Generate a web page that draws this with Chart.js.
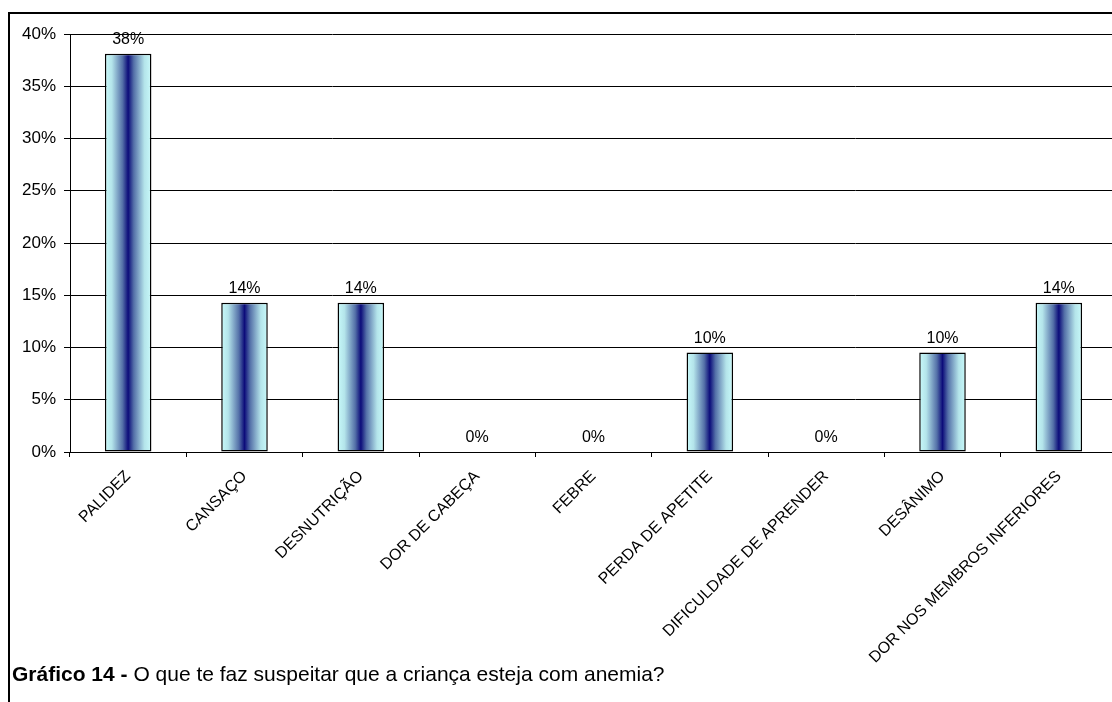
<!DOCTYPE html>
<html>
<head>
<meta charset="utf-8">
<script src="https://cdn.jsdelivr.net/npm/chart.js@4.4.1/dist/chart.umd.min.js"></script>
<style>
  html, body { margin: 0; padding: 0; background: #fff; overflow: hidden; width: 1112px; height: 702px; }
  #wrap { position: relative; width: 1112px; height: 702px; overflow: hidden; }
  #frame { position: absolute; left: 8px; top: 12px; width: 1200px; height: 800px; border-left: 2px solid #000; border-top: 2px solid #000; box-sizing: border-box; }
  #c { position: absolute; left: 0; top: 0; }
  #title { position: absolute; left: 12px; top: 662px; font-family: "Liberation Sans", Arial, sans-serif; font-size: 21px; color: #000; white-space: nowrap; }
  #title b { font-weight: bold; }
</style>
</head>
<body>
<div id="wrap">
  <div id="frame"></div>
  <canvas id="c" width="1130" height="702"></canvas>
  <div id="title"><b>Gráfico 14 -</b> O que te faz suspeitar que a criança esteja com anemia?</div>
</div>
<script>
const categories = ["PALIDEZ", "CANSAÇO", "DESNUTRIÇÃO", "DOR DE CABEÇA", "FEBRE", "PERDA DE APETITE", "DIFICULDADE DE APRENDER", "DESÂNIMO", "DOR NOS MEMBROS INFERIORES"];
const percentValues = [38.10, 14.29, 14.29, 0, 0, 9.52, 0, 9.52, 14.29];
const yTickValues = [0, 5, 10, 15, 20, 25, 30, 35, 40];

const FONT = "'Liberation Sans', Arial, sans-serif";

function barGradient(c) {
  const chart = c.chart;
  const xs = chart.scales && chart.scales.x;
  if (!chart.chartArea || !xs || c.dataIndex === undefined) return '#6a86b8';
  const cx = xs.getPixelForValue(c.dataIndex);
  const w = (xs.width / categories.length) * 0.4;
  const g = chart.ctx.createLinearGradient(cx - w / 2, 0, cx + w / 2, 0);
  g.addColorStop(0.0, '#c8fafa');
  g.addColorStop(0.15, '#b4e4ea');
  g.addColorStop(0.38, '#5470a8');
  g.addColorStop(0.5, '#0c0c7a');
  g.addColorStop(0.62, '#5470a8');
  g.addColorStop(0.85, '#b4e4ea');
  g.addColorStop(1.0, '#c8fafa');
  return g;
}

const valueLabels = {
  id: 'valueLabels',
  afterDatasetsDraw(chart) {
    const ctx = chart.ctx;
    const meta = chart.getDatasetMeta(0);
    ctx.save();
    ctx.font = '16px ' + FONT;
    ctx.fillStyle = '#000';
    ctx.textAlign = 'center';
    ctx.textBaseline = 'alphabetic';
    meta.data.forEach((el, i) => {
      const v = chart.data.datasets[0].data[i];
      ctx.fillText(Math.round(v) + '%', el.x, el.y - 10);
    });
    ctx.restore();
  }
};

new Chart(document.getElementById('c'), {
  type: 'bar',
  data: {
    labels: categories,
    datasets: [{
      data: percentValues,
      backgroundColor: barGradient,
      borderColor: '#000',
      borderWidth: 1.5,
      borderSkipped: false,
      categoryPercentage: 0.8,
      barPercentage: 0.5
    }]
  },
  options: {
    responsive: false,
    animation: false,
    devicePixelRatio: 1,
    layout: { padding: { left: 0, top: 34, right: 13, bottom: 0 } },
    plugins: { legend: { display: false }, tooltip: { enabled: false }, title: { display: false } },
    scales: {
      x: {
        offset: true,
        grid: { offset: true, drawOnChartArea: false, drawTicks: true, tickLength: 5, color: '#000', lineWidth: 1 },
        border: { display: true, color: '#000', width: 1 },
        ticks: {
          autoSkip: false, minRotation: 45, maxRotation: 45, padding: 10,
          color: '#000', font: { family: FONT, size: 16 }
        },
        afterFit(s) { s.height = 250; }
      },
      y: {
        min: 0, max: 40,
        afterBuildTicks(s) { s.ticks = yTickValues.map(v => ({ value: v })); },
        grid: { color: '#000', lineWidth: 1, drawTicks: true, tickLength: 6 },
        border: { display: true, color: '#000', width: 1 },
        ticks: {
          padding: 8, color: '#000', font: { family: FONT, size: 17 },
          callback: (v) => v + '%'
        },
        afterFit(s) { s.width = 70; }
      }
    }
  },
  plugins: [valueLabels]
});
</script>
</body>
</html>
